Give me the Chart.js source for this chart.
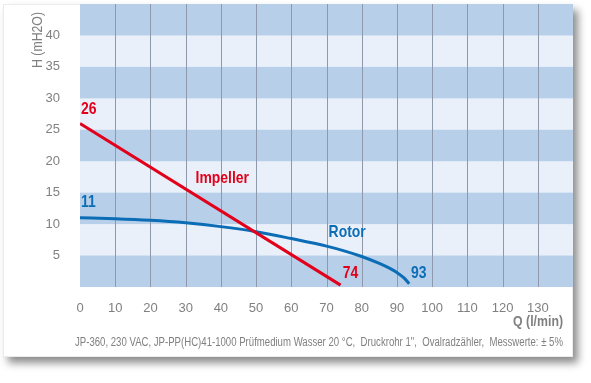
<!DOCTYPE html>
<html>
<head>
<meta charset="utf-8">
<script src="https://cdn.jsdelivr.net/npm/chart.js@4.4.0/dist/chart.umd.min.js"></script>
<style>
    body { margin: 0; background: #fff; }
    #card {
        position: absolute; left: 3px; top: 4px; width: 570px; height: 353px;
        background: #fff; border: 1px solid #ececec; box-sizing: border-box;
        box-shadow: 5px 6px 8px rgba(0, 0, 0, 0.45);
    }
    #wrap { position: absolute; left: 0; top: 0; width: 591px; height: 383px; }
</style>
</head>
<body>
<div id="card"></div>
<div id="wrap"><canvas id="myChart" width="591" height="383"></canvas></div>
<script>
// data
var impellerQ = [0, 74];
var impellerH = [26, 0.3];
var rotorQ = [0, 10, 20, 30, 40, 50, 60, 70, 75, 80, 85, 88, 90, 92, 93.5];
var rotorH = [11, 10.85, 10.6, 10.2, 9.6, 8.8, 7.7, 6.5, 5.75, 4.85, 3.75, 2.95, 2.3, 1.45, 0.5];
var xTicks = [0, 10, 20, 30, 40, 50, 60, 70, 80, 90, 100, 110, 120, 130];
var yTicks = [5, 10, 15, 20, 25, 30, 35, 40];
var bandStarts = [0, 10, 20, 30, 40];

var FONT = "'Liberation Sans', Arial, sans-serif";
var RED = '#e2001a';
var BLUE = '#0a6db5';
var GREY = '#808080';
var NARROW = 0.82;

function toPoints(xs, ys) {
    return xs.map(function (x, i) { return { x: x, y: ys[i] }; });
}

// text labels on the plot, in data coordinates
var notes = [
    { text: '26', x: 0.3, y: 28.3, color: RED },
    { text: '11', x: 0.3, y: 13.5, color: BLUE },
    { text: 'Impeller', x: 32.8, y: 17.3, color: RED },
    { text: 'Rotor', x: 70.6, y: 8.7, color: BLUE },
    { text: '74', x: 74.6, y: 2.2, color: RED },
    { text: '93', x: 94, y: 2.2, color: BLUE }
];

// squeeze text to imitate a narrow face
function narrowText(c, text, x, y) {
    c.fillText(text, x, y, c.measureText(text).width * NARROW);
}

var bandsPlugin = {
    id: 'bands',
    beforeDatasetsDraw: function (chart) {
        var c = chart.ctx, a = chart.chartArea, ys = chart.scales.y;
        c.save();
        c.fillStyle = '#e9f0fa';
        c.fillRect(a.left, a.top, a.right - a.left, a.bottom - a.top);
        c.fillStyle = '#b8cfe9';
        bandStarts.forEach(function (v) {
            var y1 = ys.getPixelForValue(v), y2 = ys.getPixelForValue(v + 5);
            c.fillRect(a.left, y2, a.right - a.left, y1 - y2);
        });
        // vertical grid on top of bands
        c.strokeStyle = '#8e9aab';
        c.lineWidth = 1;
        xTicks.forEach(function (v) {
            if (v === 0) return;
            var x = Math.round(chart.scales.x.getPixelForValue(v)) + 0.5;
            c.beginPath();
            c.moveTo(x, a.top);
            c.lineTo(x, a.bottom);
            c.stroke();
        });
        c.restore();
    },
    afterDatasetsDraw: function (chart) {
        var c = chart.ctx, xs = chart.scales.x, ys = chart.scales.y;
        c.save();
        c.font = 'bold 17px ' + FONT;
        c.textBaseline = 'middle';
        c.textAlign = 'left';
        notes.forEach(function (n) {
            c.fillStyle = n.color;
            narrowText(c, n.text, xs.getPixelForValue(n.x), ys.getPixelForValue(n.y));
        });
        // axis titles and footer
        c.fillStyle = GREY;
        c.font = '15px ' + FONT;
        c.save();
        c.translate(38, 40);
        c.rotate(-Math.PI / 2);
        c.textAlign = 'center';
        narrowText(c, 'H (mH2O)', 0, 0);
        c.restore();
        c.textAlign = 'right';
        c.font = 'bold 15px ' + FONT;
        narrowText(c, 'Q (l/min)', 563, 322);
        c.font = '12px ' + FONT;
        c.fillText('JP-360, 230 VAC, JP-PP(HC)41-1000 Prüfmedium Wasser 20 °C,  Druckrohr 1",  Ovalradzähler,  Messwerte: ± 5%', 563, 343, 488);
        c.restore();
    }
};

var ctx = document.getElementById('myChart').getContext('2d');
var chart = new Chart(ctx, {
    type: 'scatter',
    data: {
        datasets: [{
            label: 'Impeller',
            data: toPoints(impellerQ, impellerH),
            showLine: true,
            borderColor: RED,
            borderWidth: 3,
            pointRadius: 0,
            tension: 0
        }, {
            label: 'Rotor',
            data: toPoints(rotorQ, rotorH),
            showLine: true,
            borderColor: BLUE,
            borderWidth: 3,
            pointRadius: 0,
            cubicInterpolationMode: 'monotone'
        }]
    },
    options: {
        responsive: false,
        animation: false,
        layout: { padding: { left: 0, top: 4, right: 18, bottom: 0 } },
        plugins: {
            legend: { display: false },
            tooltip: { enabled: false }
        },
        scales: {
            x: {
                type: 'linear',
                min: 0,
                max: 140,
                afterBuildTicks: function (scale) {
                    scale.ticks = xTicks.map(function (v) { return { value: v }; });
                },
                afterFit: function (scale) {
                    scale.height = 96;
                    scale.paddingLeft = 0;
                    scale.paddingRight = 0;
                },
                grid: { display: false },
                border: { display: false },
                ticks: {
                    color: GREY,
                    padding: 6,
                    maxRotation: 0,
                    font: { family: FONT, size: 13 }
                }
            },
            y: {
                type: 'linear',
                min: 0,
                max: 45,
                afterBuildTicks: function (scale) {
                    scale.ticks = yTicks.map(function (v) { return { value: v }; });
                },
                afterFit: function (scale) {
                    scale.width = 80;
                    scale.paddingTop = 0;
                    scale.paddingBottom = 0;
                },
                grid: { display: false },
                border: { display: false },
                ticks: {
                    color: GREY,
                    padding: 12,
                    font: { family: FONT, size: 13 }
                }
            }
        }
    },
    plugins: [bandsPlugin]
});
</script>
</body>
</html>
